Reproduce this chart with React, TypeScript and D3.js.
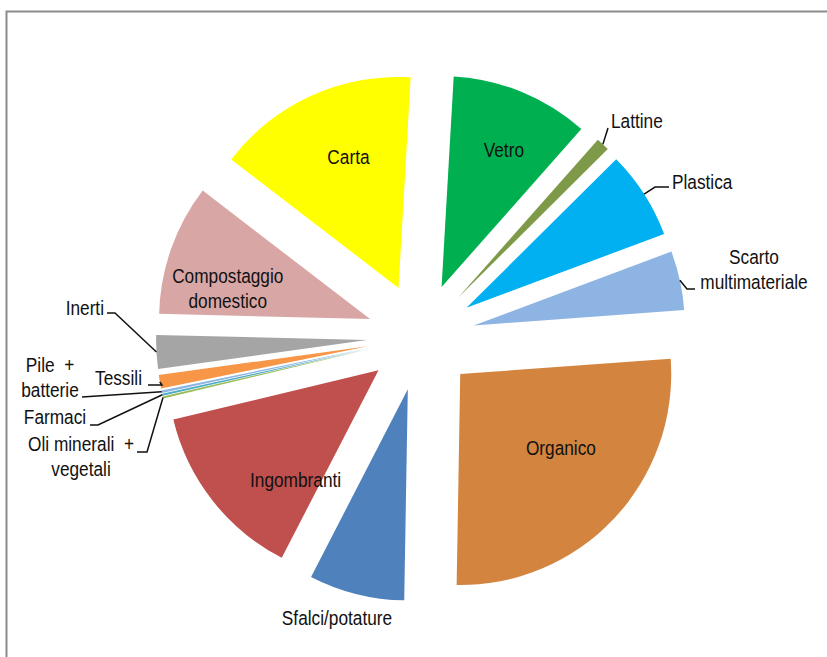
import React from 'react';
import * as d3 from 'd3';

const categories = [
  'Vetro', 'Lattine', 'Plastica', 'Scarto multimateriale', 'Organico', 'Sfalci/potature',
  'Ingombranti', 'Oli minerali + vegetali', 'Farmaci', 'Pile + batterie', 'Tessili', 'Inerti',
  'Compostaggio domestico', 'Carta',
];
const values = [10.61, 1.03, 6.75, 4.53, 26.44, 7.31, 13.67, 0.17, 0.17, 0.19, 1.03, 2.58, 10.03, 15.5];
const labelLines = [
  ['Vetro'], ['Lattine'], ['Plastica'], ['Scarto', 'multimateriale'], ['Organico'], ['Sfalci/potature'],
  ['Ingombranti'], ['Oli minerali  +', 'vegetali'], ['Farmaci'], ['Pile  +', 'batterie'], ['Tessili'], ['Inerti'],
  ['Compostaggio', 'domestico'], ['Carta'],
];
const colors = [
  '#00B050', '#7E9A48', '#00B0F0', '#8EB4E3', '#D3843F', '#4F81BD', '#C0504D', '#9BBB59',
  '#4BACC6', '#8DB4E2', '#F79646', '#A5A5A5', '#D8A7A5', '#FFFF00',
];

const W = 827;
const H = 657;
const CX = 421;
const CY = 337;
const R = 211;
const EXPLODE = 54;
const START = (3.3 * Math.PI) / 180;
const FS = 19.5;
const SX = 0.885;
const LH = 24.5;

type Layout =
  | { kind: 'in'; dx: number; dy: number }
  | { kind: 'out'; x: number; y: number; anchor: string; leader?: [number, number][] };

const layout: Record<string, Layout> = {
  'Vetro': { kind: 'in', dx: 10, dy: -10 },
  'Lattine': { kind: 'out', x: 611, y: 121, anchor: 'start', leader: [[608, 128]] },
  'Plastica': { kind: 'out', x: 672, y: 182, anchor: 'start', leader: [[655, 187], [669, 187]] },
  'Scarto multimateriale': { kind: 'out', x: 754, y: 257, anchor: 'middle', leader: [[687, 289], [695, 289]] },
  'Organico': { kind: 'in', dx: 1, dy: -20 },
  'Sfalci/potature': { kind: 'out', x: 337, y: 618, anchor: 'middle' },
  'Ingombranti': { kind: 'in', dx: 25, dy: 25 },
  'Oli minerali + vegetali': { kind: 'out', x: 81, y: 444, anchor: 'middle', leader: [[147, 452], [137, 452]] },
  'Farmaci': { kind: 'out', x: 55, y: 417, anchor: 'middle', leader: [[98, 425], [90, 425]] },
  'Pile + batterie': { kind: 'out', x: 50, y: 365, anchor: 'middle', leader: [[82, 397]] },
  'Tessili': { kind: 'out', x: 142, y: 378, anchor: 'end', leader: [[162, 385], [148, 385]] },
  'Inerti': { kind: 'out', x: 104, y: 308, anchor: 'end', leader: [[115, 313], [107, 313]] },
  'Compostaggio domestico': { kind: 'in', dx: -13, dy: 15 },
  'Carta': { kind: 'in', dx: 7, dy: -6 },
};

export default function App() {
  const data = categories.map((c, i) => ({ name: c, value: values[i], color: colors[i], lines: labelLines[i] }));
  const pie = d3
    .pie<typeof data[number]>()
    .sort(null)
    .value((d) => d.value)
    .startAngle(START)
    .endAngle(START + 2 * Math.PI);
  const arcs = pie(data);
  const arcGen = d3.arc<d3.PieArcDatum<typeof data[number]>>().innerRadius(0).outerRadius(R);

  return (
    <svg
      width={W}
      height={H}
      style={{ position: 'absolute', left: 0, top: 0, background: '#fff' }}
      fontFamily="'Liberation Sans', Arial, sans-serif"
    >
      <rect x={0} y={0} width={W} height={H} fill="#fff" />
      <rect x={6.5} y={11.5} width={W + 20} height={H + 20} fill="none" stroke="#8c8c8c" strokeWidth={2} />
      {arcs.map((a) => {
        const mid = (a.startAngle + a.endAngle) / 2;
        const ux = Math.sin(mid);
        const uy = -Math.cos(mid);
        const ax = CX + EXPLODE * ux;
        const ay = CY + EXPLODE * uy;
        return (
          <path key={a.data.name} d={arcGen(a) || ''} fill={a.data.color} transform={`translate(${ax},${ay})`} />
        );
      })}
      {arcs.map((a) => {
        const mid = (a.startAngle + a.endAngle) / 2;
        const ux = Math.sin(mid);
        const uy = -Math.cos(mid);
        const ax = CX + EXPLODE * ux;
        const ay = CY + EXPLODE * uy;
        const L = layout[a.data.name];
        const n = a.data.lines.length;
        let x: number;
        let y: number;
        let anchor = 'middle';
        let leader: React.ReactNode = null;
        if (L.kind === 'in') {
          x = ax + 0.65 * R * ux + L.dx;
          y = ay + 0.65 * R * uy + L.dy - ((n - 1) * LH) / 2;
        } else {
          x = L.x;
          y = L.y;
          anchor = L.anchor;
          if (L.leader) {
            const ox = ax + R * ux;
            const oy = ay + R * uy;
            const pts: [number, number][] = [[ox, oy], ...L.leader];
            leader = (
              <path d={d3.line()(pts) || ''} fill="none" stroke="#111" strokeWidth={1.5} />
            );
          }
        }
        return (
          <g key={'l' + a.data.name}>
            {leader}
            {a.data.lines.map((t, i) => (
              <text
                key={i}
                transform={`translate(${x},${y + i * LH}) scale(${SX},1)`}
                textAnchor={anchor}
                dy="0.36em"
                fontSize={FS}
                fill="#111"
                style={{ whiteSpace: 'pre' }}
              >
                {t}
              </text>
            ))}
          </g>
        );
      })}
    </svg>
  );
}
